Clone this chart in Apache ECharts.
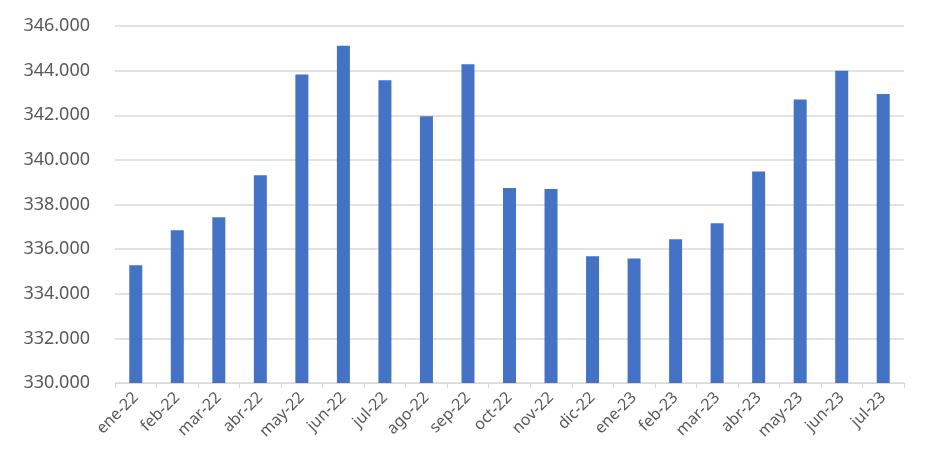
<!DOCTYPE html>
<html>
<head>
<meta charset="utf-8">
<script src="https://cdn.jsdelivr.net/npm/echarts@6/dist/echarts.min.js"></script>
<style>
html,body{margin:0;padding:0;background:#fff;}
#chart{width:931px;height:464px;}
</style>
</head>
<body>
<div id="chart"></div>
<script>
const categories = ["ene-22","feb-22","mar-22","abr-22","may-22","jun-22","jul-22","ago-22","sep-22","oct-22","nov-22","dic-22","ene-23","feb-23","mar-23","abr-23","may-23","jun-23","jul-23"];
const values = [335280,336850,337430,339310,343830,345110,343570,341950,344290,338740,338700,335680,335580,336440,337160,339480,342710,343990,342950];
const yMin = 330000, yMax = 346000, yStep = 2000;

function fmt(v){
  return String(Math.round(v)).replace(/\B(?=(\d{3})+(?!\d))/g, '.');
}

const chart = echarts.init(document.getElementById('chart'));
chart.setOption({
  animation: false,
  grid: {left: 115, right: 27, top: 26, bottom: 81},
  xAxis: {
    type: 'category',
    data: categories,
    axisLine: {lineStyle: {color: '#d9d9d9', width: 1}},
    axisTick: {show: true, alignWithLabel: false, length: 5, lineStyle: {color: '#d9d9d9'}},
    axisLabel: {rotate: 45, color: '#595959', fontSize: 16, fontFamily: 'Noto Sans, Open Sans, sans-serif', margin: 12}
  },
  yAxis: {
    type: 'value',
    min: yMin, max: yMax, interval: yStep,
    axisLine: {show: false},
    axisTick: {show: false},
    splitLine: {lineStyle: {color: '#d9d9d9', width: 1.5}},
    axisLabel: {color: '#595959', fontSize: 18, fontFamily: 'Noto Sans, Open Sans, sans-serif', margin: 25, formatter: fmt}
  },
  series: [{
    type: 'bar',
    data: values,
    barWidth: 13,
    itemStyle: {color: '#4472c4'}
  }]
});
</script>
</body>
</html>
